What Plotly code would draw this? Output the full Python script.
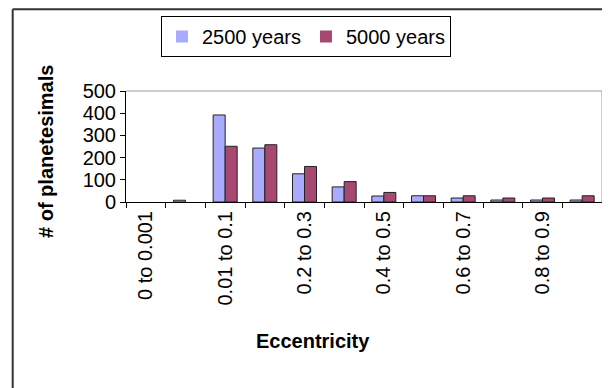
import plotly.graph_objects as go

categories = ["0 to 0.001", "0.001 to 0.01", "0.01 to 0.1", "0.1 to 0.2", "0.2 to 0.3",
              "0.3 to 0.4", "0.4 to 0.5", "0.5 to 0.6", "0.6 to 0.7", "0.7 to 0.8",
              "0.8 to 0.9", "0.9 to 1"]
years_2500 = [0, 8, 392, 243, 127, 68, 27, 28, 18, 9, 9, 9]
years_5000 = [0, 0, 251, 258, 160, 92, 43, 28, 28, 18, 18, 28]
series_names = ["2500 years", "5000 years"]
y_ticks = [0, 100, 200, 300, 400, 500]
x_title = "Eccentricity"
y_title = "# of planetesimals"

FONT = "Liberation Sans, Arial, sans-serif"
OFF = 8  # page body margin of the html page
W, H = 610 - OFF, 388 - OFF
L, T = 126 - OFF, 91 - OFF
R = W - (602 - OFF)
B = H - (202 - OFF)
pw, ph = W - L - R, H - T - B


def px(x):
    return (x - OFF - L) / pw


def py(y):
    return (H - B - (y - OFF)) / ph


ticktext = [c if i % 2 == 0 else "" for i, c in enumerate(categories)]


def outline_widths(vals):
    return [0 if v == 0 else 1 for v in vals]


fig = go.Figure()
fig.add_bar(x=categories, y=years_2500, name=series_names[0],
            marker=dict(color="#A9ABFF",
                        line=dict(color="#222222", width=outline_widths(years_2500))))
fig.add_bar(x=categories, y=years_5000, name=series_names[1],
            marker=dict(color="#A64872",
                        line=dict(color="#222222", width=outline_widths(years_5000))))

fig.update_layout(
    width=W, height=H,
    margin=dict(l=L, r=R, t=T, b=B, pad=0),
    paper_bgcolor="white", plot_bgcolor="white",
    font=dict(family=FONT, size=20, color="black"),
    barmode="group", bargap=0.395, bargroupgap=0,
    showlegend=True,
    legend=dict(orientation="h", x=px(161), y=py(16), xanchor="left", yanchor="top",
                bordercolor="black", borderwidth=1, bgcolor="white",
                font=dict(family=FONT, size=20, color="black"),
                itemwidth=30, tracegroupgap=0),
    xaxis=dict(type="category", categoryorder="array", categoryarray=categories,
               range=[-0.5, len(categories) - 0.5],
               tickmode="array", tickvals=categories, ticktext=ticktext,
               tickson="boundaries", ticks="outside", ticklen=5, tickcolor="black",
               tickangle=-90, showline=True, linecolor="black", linewidth=1,
               showgrid=False, zeroline=False, automargin=False,
               tickfont=dict(family=FONT, size=20, color="black")),
    yaxis=dict(range=[0, 500], tickmode="array", tickvals=y_ticks,
               ticks="outside", ticklen=5, tickcolor="black",
               showline=True, linecolor="black", linewidth=1,
               showgrid=False, zeroline=False, automargin=False,
               tickfont=dict(family=FONT, size=20, color="black")),
)

# plot-area border (top and right, grey)
fig.add_shape(type="line", xref="paper", yref="paper", x0=0, x1=1, y0=1, y1=1,
              line=dict(color="#9a9a9a", width=1))
fig.add_shape(type="line", xref="paper", yref="paper", x0=1, x1=1, y0=0, y1=1,
              line=dict(color="#9a9a9a", width=1))
# outer chart frame (left and top edges visible)
fig.add_shape(type="line", xref="paper", yref="paper", x0=px(12.7), x1=px(12.7),
              y0=py(9.3), y1=py(400), line=dict(color="#333333", width=2))
fig.add_shape(type="line", xref="paper", yref="paper", x0=px(12.7), x1=px(620),
              y0=py(9.3), y1=py(9.3), line=dict(color="#333333", width=2))

fig.add_annotation(text="<b>%s</b>" % y_title, xref="paper", yref="paper",
                   x=px(46), y=py(152), textangle=-90, showarrow=False,
                   xanchor="center", yanchor="middle",
                   font=dict(family=FONT, size=20, color="black"))
fig.add_annotation(text="<b>%s</b>" % x_title, xref="paper", yref="paper",
                   x=px(313), y=py(341), showarrow=False,
                   xanchor="center", yanchor="middle",
                   font=dict(family=FONT, size=20, color="black"))

fig.write_html("out.html")
